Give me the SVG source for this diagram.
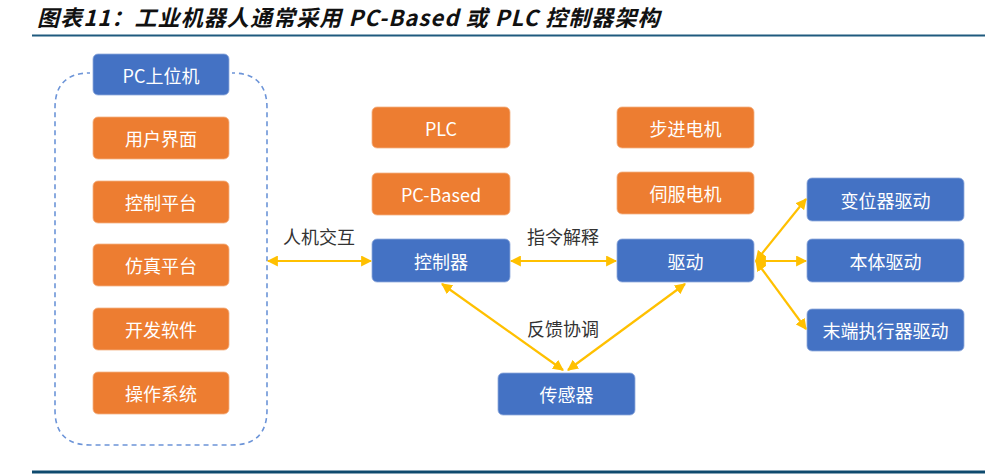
<svg xmlns="http://www.w3.org/2000/svg" width="1000" height="474" viewBox="0 0 1000 474">
<defs>
<style>
.blue{fill:#4472C4;stroke:#8FAADC;stroke-width:0.8}
.orange{fill:#ED7D31;stroke:#F4B183;stroke-width:0.8}
.lbl{font-family:"Noto Sans CJK SC","Noto Sans",sans-serif;font-size:18px;fill:#FFFFFF;text-anchor:middle;dominant-baseline:central}
.ctext{font-family:"Noto Sans CJK SC","Noto Sans",sans-serif;font-size:18px;fill:#333333;text-anchor:middle;dominant-baseline:central}
.arr{stroke:#FFC000;stroke-width:2.2;fill:none;marker-end:url(#ah);marker-start:url(#ah)}
</style>
<marker id="ah" viewBox="0 0 10 10" refX="9" refY="5" markerWidth="5" markerHeight="5" orient="auto-start-reverse" markerUnits="strokeWidth">
<path d="M0,0 L10,5 L0,10 z" fill="#FFC000"/>
</marker>
</defs>
<rect width="1000" height="474" fill="#FFFFFF"/>
<text x="37" y="26" font-family="'Noto Sans CJK SC','DejaVu Sans',sans-serif" font-size="22" font-weight="bold" font-style="italic" letter-spacing="1.1" fill="#111">图表11：工业机器人通常采用 PC-Based 或 PLC 控制器架构</text>
<line x1="32" y1="35.5" x2="985" y2="35.5" stroke="#1F5A7E" stroke-width="2"/>
<line x1="32" y1="472" x2="985" y2="472" stroke="#0E4A6E" stroke-width="3"/>

<g id="pc-group">
<path d="M88,73 L90,73 Q55,73 55,108 L55,410 Q55,445 90,445 L232,445 Q267,445 267,410 L267,108 Q267,73 232,73" fill="none" stroke="#6C94D8" stroke-width="1.6" stroke-dasharray="5,4"/>
</g>
<g id="pc"><rect class="blue" x="93" y="54" width="136" height="41" rx="5"/><text class="lbl" x="161" y="74.5">PC上位机</text></g>
<g id="ui"><rect class="orange" x="93" y="117" width="136" height="42" rx="5"/><text class="lbl" x="161" y="138">用户界面</text></g>
<g id="ctrlplat"><rect class="orange" x="93" y="181" width="136" height="42" rx="5"/><text class="lbl" x="161" y="202">控制平台</text></g>
<g id="sim"><rect class="orange" x="93" y="244" width="136" height="42" rx="5"/><text class="lbl" x="161" y="265">仿真平台</text></g>
<g id="dev"><rect class="orange" x="93" y="308" width="136" height="42" rx="5"/><text class="lbl" x="161" y="329">开发软件</text></g>
<g id="os"><rect class="orange" x="93" y="372" width="136" height="42" rx="5"/><text class="lbl" x="161" y="393">操作系统</text></g>

<g id="plc"><rect class="orange" x="372" y="107" width="138" height="41" rx="5"/><text class="lbl" x="441" y="127.5">PLC</text></g>
<g id="pcbased"><rect class="orange" x="372" y="173" width="138" height="42" rx="5"/><text class="lbl" x="441" y="194">PC-Based</text></g>
<g id="controller"><rect class="blue" x="372" y="239" width="138" height="43" rx="5"/><text class="lbl" x="441" y="260.5">控制器</text></g>
<g id="sensor"><rect class="blue" x="498" y="373" width="137" height="42" rx="5"/><text class="lbl" x="566.5" y="394">传感器</text></g>

<g id="stepper"><rect class="orange" x="617" y="107" width="137" height="41" rx="5"/><text class="lbl" x="685.5" y="127.5">步进电机</text></g>
<g id="servo"><rect class="orange" x="617" y="172" width="137" height="42" rx="5"/><text class="lbl" x="685.5" y="193">伺服电机</text></g>
<g id="drive"><rect class="blue" x="617" y="239" width="137" height="43" rx="5"/><text class="lbl" x="685.5" y="260.5">驱动</text></g>

<g id="positioner"><rect class="blue" x="807" y="178" width="157" height="43" rx="5"/><text class="lbl" x="885.5" y="199.5">变位器驱动</text></g>
<g id="body"><rect class="blue" x="807" y="239" width="157" height="43" rx="5"/><text class="lbl" x="885.5" y="260.5">本体驱动</text></g>
<g id="endeff"><rect class="blue" x="807" y="309" width="157" height="42" rx="5"/><text class="lbl" x="885.5" y="330">末端执行器驱动</text></g>

<g id="connectors">
<line class="arr" x1="268" y1="261" x2="371" y2="261"/>
<line class="arr" x1="511" y1="261" x2="616" y2="261"/>
<line class="arr" x1="442" y1="284" x2="563" y2="370"/>
<line class="arr" x1="685" y1="284" x2="568" y2="370"/>
<line class="arr" x1="756" y1="261" x2="806" y2="199"/>
<line class="arr" x1="756" y1="261" x2="806" y2="261"/>
<line class="arr" x1="756" y1="261" x2="806" y2="329"/>
</g>
<g id="labels">
<text class="ctext" x="319" y="236">人机交互</text>
<text class="ctext" x="563" y="236">指令解释</text>
<text class="ctext" x="563" y="328">反馈协调</text>
</g>
</svg>
